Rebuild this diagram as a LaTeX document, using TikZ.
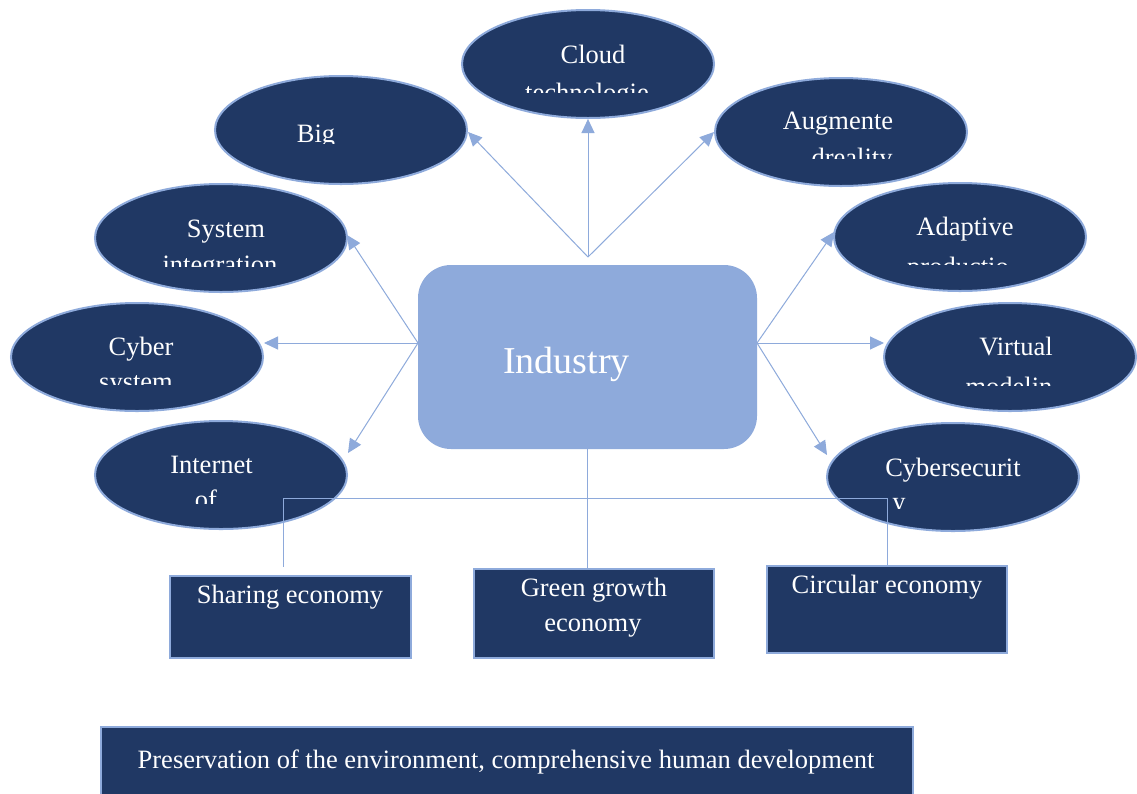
\documentclass[tikz,border=0pt]{standalone}
\usepackage{fontspec}
\setmainfont{Liberation Serif}
\usetikzlibrary{shapes.geometric,arrows.meta,calc}
\definecolor{navy}{HTML}{203864}
\definecolor{lblue}{HTML}{8EAADB}
\begin{document}
\begin{tikzpicture}[x=1pt,y=-1pt,
  oval/.style={ellipse,draw=lblue,line width=2pt,fill=navy,minimum width=252pt,minimum height=108pt,inner sep=0pt},
  darkbox/.style={rectangle,draw=lblue,line width=2pt,fill=navy,inner sep=0pt},
  lbl/.style={text=white,font=\fontsize{26.5}{30}\selectfont,anchor=base,inner sep=0pt},
  conn/.style={draw=lblue,line width=1pt},
  arr/.style={conn,-{Triangle[length=14pt,width=13pt]}},
]
\clip (0,0) rectangle (1137,793);
\fill[white] (0,0) rectangle (1137,793);

% central box
\node[rectangle,rounded corners=33pt,fill=lblue,minimum width=339pt,minimum height=184pt,inner sep=0pt] (industry) at (587.5,357) {};

% ellipses
\node[oval] (cloud) at (588,64) {};
\node[oval] (big) at (341,130) {};
\node[oval] (aug) at (841,132) {};
\node[oval] (adapt) at (960,237) {};
\node[oval] (sys) at (221,238) {};
\node[oval] (cyber) at (137,357) {};
\node[oval] (inet) at (221,475) {};
\node[oval] (virt) at (1010,357) {};
\node[oval] (csec) at (953,477) {};

% boxes
\node[darkbox,minimum width=241pt,minimum height=82pt] (share) at (290.5,617) {};
\node[darkbox,minimum width=240pt,minimum height=89pt] (green) at (594,613.5) {};
\node[darkbox,minimum width=240pt,minimum height=87pt] (circ) at (887,609.5) {};
\node[darkbox,minimum width=812pt,minimum height=80pt] (pres) at (507,767) {};

% hubs and arrow tips
\coordinate (hubT) at (588,257);
\coordinate (hubL) at (418,343);
\coordinate (hubR) at (757,343);
\coordinate (tBig) at (468,132);
\coordinate (tAug) at (714,132);
\coordinate (tSys) at (347,235);
\coordinate (tCyber) at (264,343);
\coordinate (tInet) at (348,453);
\coordinate (tAdapt) at (834,232);
\coordinate (tVirt) at (884,343);
\coordinate (tCsec) at (827,455);

\draw[arr] (hubT) -- (tBig);
\draw[arr] (hubT) -- (cloud.south);
\draw[arr] (hubT) -- (tAug);
\draw[arr] (hubL) -- (tSys);
\draw[arr] (hubL) -- (tCyber);
\draw[arr] (hubL) -- (tInet);
\draw[arr] (hubR) -- (tAdapt);
\draw[arr] (hubR) -- (tVirt);
\draw[arr] (hubR) -- (tCsec);

% bottom connectors
\coordinate (jl) at (283,498);
\coordinate (jr) at (887,498);
\coordinate (sl) at (283,567);
\draw[conn] (industry.south) -- (industry.south |- green.north);
\draw[conn] (jl) -- (jr);
\draw[conn] (jl) -- (sl);
\draw[conn] (jr) -- (circ.north);

% ellipse texts
\node[lbl] (cloudA) at (593,63) {Cloud};
\begin{scope}\clip (460,70) rectangle (716,92);
\node[lbl] (cloudB) at (587,101) {technologie};\end{scope}

\begin{scope}\clip (213,100) rectangle (469,143);
\node[lbl] (bigA) at (316,142) {Big};\end{scope}

\node[lbl] (augA) at (838,129) {Augmente};
\begin{scope}\clip (713,135) rectangle (969,158);
\node[lbl] (augB) at (852,166) {dreality};\end{scope}

\node[lbl] (adaptA) at (965,235) {Adaptive};
\begin{scope}\clip (832,240) rectangle (1088,264);
\node[lbl] (adaptB) at (958,275) {productio};\end{scope}

\node[lbl] (sysA) at (226,237) {System};
\begin{scope}\clip (93,242) rectangle (349,266);
\node[lbl] (sysB) at (220,273) {integration};\end{scope}

\node[lbl] (cyberA) at (141,355) {Cyber};
\begin{scope}\clip (9,360) rectangle (265,384);
\node[lbl] (cyberB) at (136,390) {system};\end{scope}

\node[lbl] (inetA) at (211.5,473) {Internet};
\begin{scope}\clip (93,478) rectangle (349,503);
\node[lbl] (inetB) at (206,508) {of};\end{scope}

\node[lbl] (virtA) at (1016,355) {Virtual};
\begin{scope}\clip (882,360) rectangle (1137,385);
\node[lbl] (virtB) at (1009,395) {modelin};\end{scope}

\node[lbl] (csecA) at (953,476) {Cybersecurit};
\begin{scope}\clip (825,481) rectangle (1081,508);
\node[lbl] (csecB) at (899,510) {y};\end{scope}

% central and box texts
\node[lbl,font=\fontsize{38}{42}\selectfont] (indT) at (566.5,373) {Industry};
\node[lbl] (shareT) at (290,603) {Sharing economy};
\node[lbl] (greenT1) at (594,596) {Green growth};
\node[lbl] (greenT2) at (593,631) {economy};
\node[lbl] (circT) at (887,593) {Circular economy};
\node[lbl] (presT) at (506,768) {Preservation of the environment, comprehensive human development};
\end{tikzpicture}
\end{document}
